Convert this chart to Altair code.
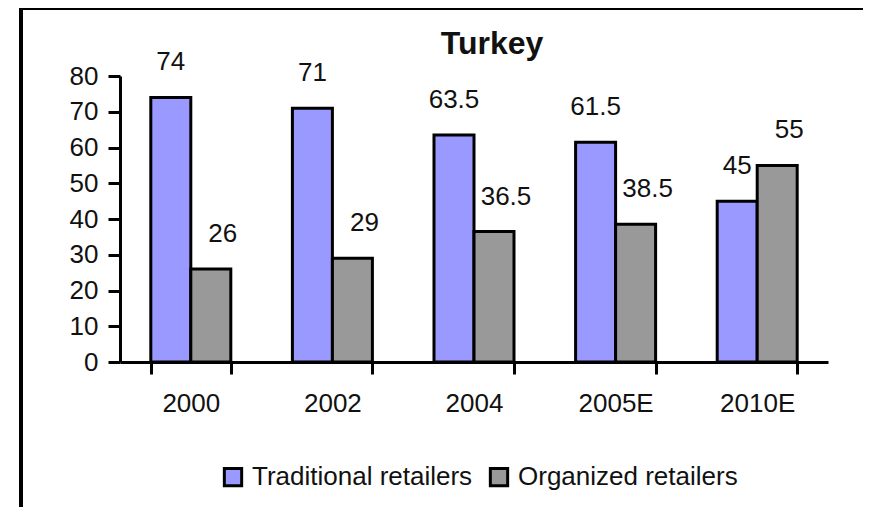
import altair as alt
import pandas as pd

years = ["2000", "2002", "2004", "2005E", "2010E"]
traditional = [74, 71, 63.5, 61.5, 45]
organized = [26, 29, 36.5, 38.5, 55]
series_names = ["Traditional retailers", "Organized retailers"]
series_colors = ["#9999FF", "#999999"]
y_ticks = [0, 10, 20, 30, 40, 50, 60, 70, 80]

rows = []
for i, yr in enumerate(years):
    rows.append({"year": yr, "series": series_names[0], "value": traditional[i]})
    rows.append({"year": yr, "series": series_names[1], "value": organized[i]})
df = pd.DataFrame(rows)

FONT = "Liberation Sans"

x_enc = alt.X(
    "year:N",
    sort=years,
    title=None,
    scale=alt.Scale(paddingInner=0.435, paddingOuter=0.2175),
    axis=alt.Axis(
        labelAngle=0,
        labelFontSize=26,
        labelFont=FONT,
        labelColor="#111111",
        labelPadding=16,
        labelOverlap=False,
        tickBand="extent",
        tickSize=12,
        tickWidth=3,
        tickColor="black",
        domainWidth=3,
        domainColor="black",
        grid=False,
    ),
)
y_enc = alt.Y(
    "value:Q",
    title=None,
    scale=alt.Scale(domain=[0, 80], nice=False, zero=True),
    axis=alt.Axis(
        values=y_ticks,
        tickCount=9,
        labelFontSize=26,
        labelFont=FONT,
        labelColor="#111111",
        labelPadding=10,
        labelOverlap=False,
        labelFlush=False,
        labelBound=False,
        tickSize=12,
        tickWidth=3,
        tickColor="black",
        domainWidth=3,
        domainColor="black",
        grid=False,
    ),
)
xoff = alt.XOffset(
    "series:N",
    sort=series_names,
    scale=alt.Scale(domain=series_names, paddingInner=0, paddingOuter=0),
)

base = alt.Chart(df)

bars = base.mark_bar(stroke="black", strokeWidth=3).encode(
    x=x_enc,
    xOffset=xoff,
    y=y_enc,
    color=alt.Color(
        "series:N",
        scale=alt.Scale(domain=series_names, range=series_colors),
        legend=alt.Legend(
            title=None,
            orient="none",
            direction="horizontal",
            legendX=100,
            legendY=388,
            padding=0,
            symbolType="square",
            symbolSize=300,
            symbolStrokeColor="black",
            symbolStrokeWidth=3,
            symbolOpacity=1,
            labelFontSize=26,
            labelFont=FONT,
            labelColor="#111111",
            labelOffset=6,
            columnPadding=11,
            labelLimit=400,
        ),
    ),
)

labels_trad = base.transform_filter(
    alt.datum.series == series_names[0]
).mark_text(dy=-35, fontSize=26, font=FONT, baseline="middle", color="#111111").encode(
    x=x_enc,
    xOffset=xoff,
    y=y_enc,
    text="value:Q",
)
labels_org = base.transform_filter(
    alt.datum.series == series_names[1]
).mark_text(dy=-35, dx=12, fontSize=26, font=FONT, baseline="middle", color="#111111").encode(
    x=x_enc,
    xOffset=xoff,
    y=y_enc,
    text="value:Q",
)

frame_df = pd.DataFrame({"a": [0]})
border_top = alt.Chart(frame_df).mark_rule(stroke="black", strokeWidth=4).encode(
    x=alt.value(-101), x2=alt.value(1000), y=alt.value(-68)
)
border_left = alt.Chart(frame_df).mark_rule(stroke="black", strokeWidth=4).encode(
    x=alt.value(-99), y=alt.value(-70), y2=alt.value(700)
)

chart = (
    alt.layer(border_top, border_left, bars, labels_trad, labels_org)
    .properties(
        width=708,
        height=286,
        view=alt.ViewBackground(strokeOpacity=0, strokeWidth=0),
        title=alt.TitleParams(
            "Turkey",
            fontSize=32,
            fontWeight="bold",
            font=FONT,
            color="#111111",
            anchor="middle",
            frame="group",
            dx=18,
            offset=-82,
            baseline="alphabetic",
        ),
        autosize=alt.AutoSizeParams(type="none"),
        padding={"left": 112, "top": 68, "right": 35, "bottom": 145},
    )
    .configure_view(strokeOpacity=0, strokeWidth=0)
    .configure(background="white")
)

chart.save("out.html", embed_options={"renderer": "svg", "actions": False})
